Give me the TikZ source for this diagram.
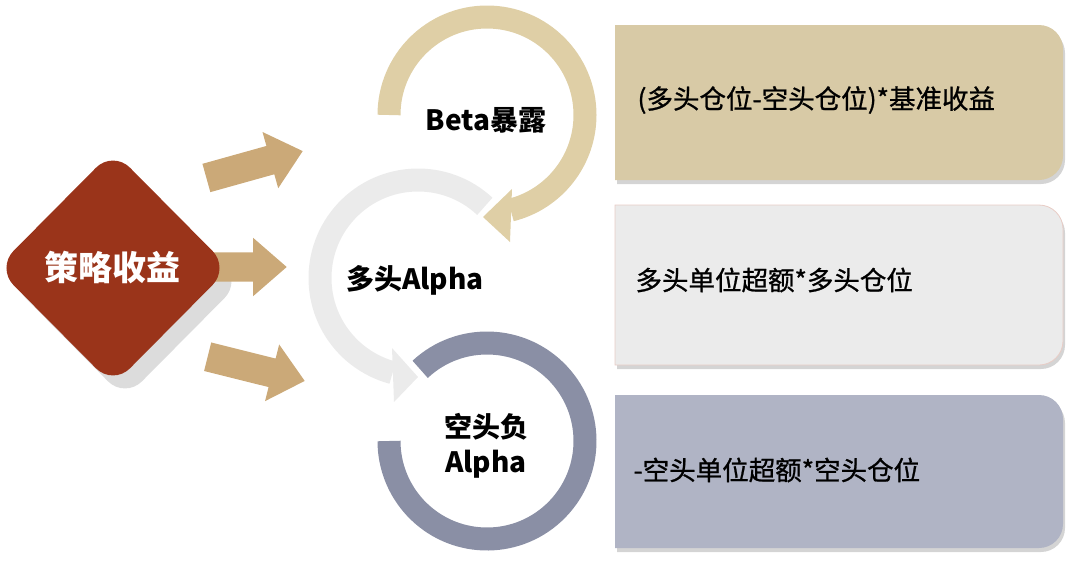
\documentclass[tikz,border=0pt]{standalone}
\usepackage{fontspec}
\setmainfont{Noto Sans CJK SC}
\newfontfamily\panelfont{Noto Sans CJK SC}[FakeBold=0.9]
\usetikzlibrary{calc,shapes.geometric,shapes.arrows}
\definecolor{RetRed}{HTML}{9A341A}
\definecolor{RetShadow}{HTML}{DCDCDC}
\definecolor{PushTan}{HTML}{CBA978}
\definecolor{BetaTan}{HTML}{DFCFA6}
\definecolor{LongGray}{HTML}{EBEBEB}
\definecolor{ShortSlate}{HTML}{8A8FA5}
\definecolor{PanelTan}{HTML}{D8CAA6}
\definecolor{PanelGray}{HTML}{EBEBEB}
\definecolor{PanelSlate}{HTML}{B0B4C5}
\definecolor{PanelEdge}{HTML}{E8CCC5}
\definecolor{PanelShadow}{HTML}{D4D4D4}

\begin{document}
\begin{tikzpicture}[
  x=1pt,y=1pt,
  gem/.style={diamond,rounded corners=24pt,minimum width=233pt,
    minimum height=235pt,inner sep=0pt},
  push/.style={single arrow,fill=PushTan,draw=none,minimum height=#1,
    inner xsep=0pt,inner ysep=14.5pt,single arrow head extend=14.5pt,
    single arrow tip angle=82,anchor=tip},
  ring/.style={draw=#1,line width=23pt},
  tag/.style={font=\bfseries\fontsize{28}{32}\selectfont,align=center},
  note/.style={anchor=west,font=\panelfont\fontsize{26.5}{30}\selectfont}
]
\useasboundingbox (0,0) rectangle (1080,-582);

% source diamond with its shadow, block arrows behind it
\node[gem,fill=RetShadow] (strategyShadow) at (125,-281) {};
\node[push=100pt,rotate=15.6] (pushUp) at (303,-151) {};
\node[push=90pt] (pushMid) at (287,-267) {};
\node[push=100pt,rotate=-14] (pushDown) at (305,-381) {};
\node[gem,fill=RetRed,text=white,font=\bfseries\fontsize{34}{40}\selectfont]
  (strategy) at (113,-268) {策略收益};

% three return components as ring arrows
\coordinate (betaC) at (487,-115);
\coordinate (longC) at (418,-278);
\coordinate (shortC) at (487,-441);

\draw[ring=LongGray] ($(longC)+(47:98)$) arc[start angle=47,end angle=255,radius=98];
\fill[LongGray] ($(longC)+(-26,-70)$) -- ($(longC)+(-24,-124)$)
  -- ($(longC)+(0,-99)$) -- cycle;

\draw[ring=BetaTan] ($(betaC)+(180:98)$) arc[start angle=180,end angle=-76,radius=98];
\fill[BetaTan] ($(betaC)+(25,-74)$) -- ($(betaC)+(23,-127)$)
  -- ($(betaC)+(-4,-102)$) -- cycle;

\draw[ring=ShortSlate] ($(shortC)+(133:98)$) arc[start angle=133,end angle=-180,radius=98];

\node[tag] (beta) at (486,-120) {Beta暴露};
\node[tag] (longAlpha) at (415,-280) {多头Alpha};
\node[tag] (shortAlpha) at (486,-446) {空头负\\[3pt]Alpha};

% formula panels, round on the right side only
\foreach \yt/\yb/\col in {25/180/PanelTan,205/365/PanelGray,395/548/PanelSlate}{
  \fill[PanelShadow,shift={(2,-4)}] (615,-\yt) -- (1039,-\yt)
    arc[start angle=90,end angle=0,radius=24] -- (1063,{-\yb+24})
    arc[start angle=0,end angle=-90,radius=24] -- (615,-\yb) -- cycle;
  \fill[\col] (615,-\yt) -- (1039,-\yt)
    arc[start angle=90,end angle=0,radius=24] -- (1063,{-\yb+24})
    arc[start angle=0,end angle=-90,radius=24] -- (615,-\yb) -- cycle;
}
\draw[PanelEdge,line width=0.8pt] (615,-205) -- (1039,-205)
  arc[start angle=90,end angle=0,radius=24] -- (1063,-341)
  arc[start angle=0,end angle=-90,radius=24] -- (615,-365) -- cycle;

\node[note] (betaFormula) at (634,-100) {(多头仓位-空头仓位)*基准收益};
\node[note] (longFormula) at (632,-280) {多头单位超额*多头仓位};
\node[note] (shortFormula) at (630,-470) {-空头单位超额*空头仓位};

\end{tikzpicture}
\end{document}
